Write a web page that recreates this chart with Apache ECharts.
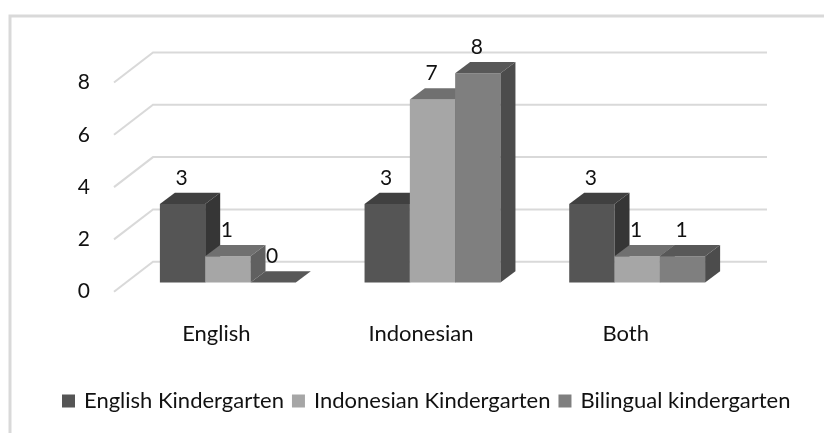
<!DOCTYPE html>
<html><head><meta charset="utf-8">
<style>html,body{margin:0;padding:0;background:#fff}#c{width:824px;height:433px}</style>
<script src="https://cdn.jsdelivr.net/npm/echarts@6/dist/echarts.min.js"></script>
</head><body><div id="c"></div>
<script>
var categories = ['English', 'Indonesian', 'Both'];
var seriesNames = ['English Kindergarten', 'Indonesian Kindergarten', 'Bilingual kindergarten'];
var englishK = [3, 3, 3];
var indonesianK = [1, 7, 1];
var bilingualK = [0, 8, 1];
var yTicks = [0, 2, 4, 6, 8];

var seriesValues = [englishK, indonesianK, bilingualK];
var faces = [
  {front: '#555555', top: '#404040', side: '#363636'},
  {front: '#a6a6a6', top: '#707070', side: '#606060'},
  {front: '#7f7f7f', top: '#585858', side: '#4c4c4c'}
];
var FONT = 'Lato';
var wallDx = 39, wallDy = 30;
var barShiftX = 11.5, barShiftY = 9.2;
var depthDx = 15, depthDy = 11.3;
var groupShare = 0.664;

function poly(points, fill) {
  return {type: 'polygon', shape: {points: points}, style: {fill: fill}};
}
function barRender(si) {
  return function (params, api) {
    var c = api.value(0), v = api.value(1);
    var band = api.size([1, 0])[0];
    var w = band * groupShare / 3;
    var center = api.coord([c, 0]);
    var topP = api.coord([c, v]);
    var x0 = center[0] - 1.5 * w + si * w + barShiftX;
    var x1 = x0 + w;
    var yb = center[1] - barShiftY;
    var yt = topP[1] - barShiftY;
    var f = faces[si];
    return {type: 'group', children: [
      poly([[x0, yb], [x1, yb], [x1, yt], [x0, yt]], f.front),
      poly([[x0, yt], [x1, yt], [x1 + depthDx, yt - depthDy], [x0 + depthDx, yt - depthDy]], f.top),
      poly([[x1, yb], [x1 + depthDx, yb - depthDy], [x1 + depthDx, yt - depthDy], [x1, yt]], f.side),
      {type: 'text', z2: 50, style: {text: String(v), x: (x0 + x1) / 2 - 1, y: yt - 26, align: 'center', verticalAlign: 'middle',
        fill: '#111', font: '21px ' + FONT}}
    ]};
  };
}
function wallRender(params, api) {
  var cs = params.coordSys;
  var y = api.coord([0, api.value(0)])[1];
  return {type: 'polyline', shape: {points: [[cs.x, y], [cs.x + wallDx, y - wallDy], [cs.x + cs.width + wallDx, y - wallDy]]},
    style: {fill: null, stroke: '#d9d9d9', lineWidth: 2}, silent: true};
}

var series = [{
  type: 'custom', name: 'walls', coordinateSystem: 'cartesian2d', z: 1, silent: true,
  renderItem: wallRender, encode: {y: 0}, data: yTicks.map(function (t) { return [t]; })
}];
seriesValues.forEach(function (vals, si) {
  series.push({
    type: 'custom', name: seriesNames[si], coordinateSystem: 'cartesian2d', z: 3 + si,
    renderItem: barRender(si), itemStyle: {color: faces[si].front}, encode: {x: 0, y: 1},
    data: vals.map(function (v, i) { return [i, v]; })
  });
});

var chart = echarts.init(document.getElementById('c'));
chart.setOption({
  animation: false,
  backgroundColor: '#fff',
  graphic: [{type: 'polyline', silent: true, z: 0, shape: {points: [[10, 433], [10, 16], [824, 16]]},
    style: {fill: null, stroke: '#d9d9d9', lineWidth: 3}}],
  grid: {left: 114, right: 96, top: 82.5, bottom: 141.3},
  xAxis: {type: 'category', data: categories, axisLine: {show: false}, axisTick: {show: false}, splitLine: {show: false},
    axisLabel: {color: '#111', fontFamily: FONT, fontSize: 22, margin: 31}},
  yAxis: {type: 'value', min: 0, max: 8, interval: 2, axisLine: {show: false}, axisTick: {show: false}, splitLine: {show: false},
    axisLabel: {color: '#111', fontFamily: FONT, fontSize: 21, margin: 24}},
  legend: {left: 57, top: 385, itemWidth: 13, itemHeight: 13, itemGap: 8, icon: 'rect', data: seriesNames,
    textStyle: {color: '#111', fontFamily: FONT, fontSize: 22, padding: [0, 0, 0, 4]}},
  series: series
});
</script></body></html>
